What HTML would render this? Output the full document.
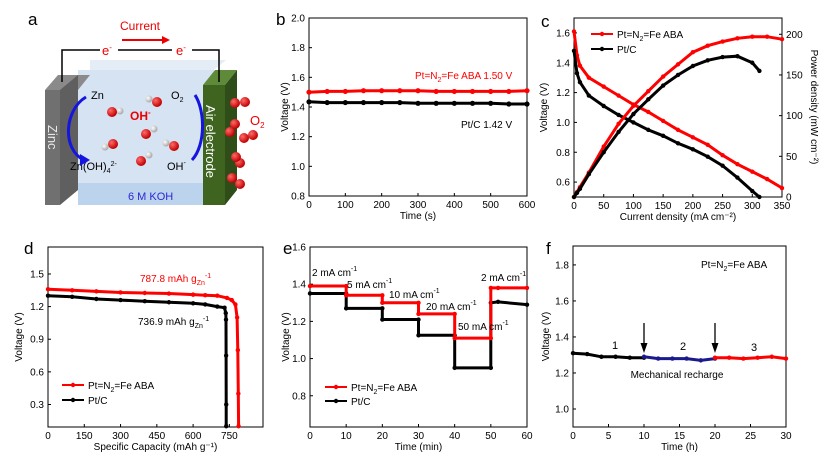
<!DOCTYPE html>
<html><head><meta charset="utf-8"><style>
body{margin:0;background:#fff;}
svg{display:block;font-family:"Liberation Sans",Arial,sans-serif;}
</style></head><body>
<svg id="fig" width="827" height="460" viewBox="0 0 827 460" xmlns="http://www.w3.org/2000/svg">
<defs>
<radialGradient id="rb" cx="35%" cy="35%" r="65%"><stop offset="0" stop-color="#ff6a6a"/><stop offset="1" stop-color="#c00000"/></radialGradient>
<radialGradient id="wb" cx="35%" cy="35%" r="65%"><stop offset="0" stop-color="#ffffff"/><stop offset="1" stop-color="#a8a8a8"/></radialGradient>
</defs>
<!-- Panel a -->
<g>
<text x="28" y="25" font-size="17">a</text>
<rect x="78" y="70" width="136" height="135" fill="#d6e3f2"/>
<polygon points="78,70 90,70 90,60 226,60 214,70" fill="#e4ecf6"/>
<rect x="78" y="183" width="136" height="22" fill="#bcd3ee"/>
<text x="128" y="200" font-size="11" fill="#2a2ad0">6 M KOH</text>
<polygon points="45,90 58,75 90,75 78,90" fill="#8a8a8a"/>
<rect x="45" y="90" width="15" height="115" fill="#707070"/>
<polygon points="60,90 78,75 78,190 60,205" fill="#5f5f5f"/>
<text transform="translate(48,125) rotate(90)" font-size="13" fill="#e8e8e8">Zinc</text>
<polygon points="203,85 215,70 237,70 225,85" fill="#5e8a3a"/>
<rect x="203" y="85" width="22" height="120" fill="#3e6420"/>
<polygon points="225,85 237,70 237,190 225,205" fill="#2f4d18"/>
<text transform="translate(206,105) rotate(90)" font-size="13" fill="#fff">Air electrode</text>
<polyline points="62,82 62,50 100,50" fill="none" stroke="#000" stroke-width="1.5"/>
<line x1="118" y1="50" x2="172" y2="50" stroke="#000" stroke-width="1.5"/>
<polyline points="192,50 219,50 219,82" fill="none" stroke="#000" stroke-width="1.5"/>
<text x="102" y="55" font-size="13" fill="#e00">e<tspan font-size="8" dy="-5">-</tspan></text>
<text x="176" y="55" font-size="13" fill="#e00">e<tspan font-size="8" dy="-5">-</tspan></text>
<text x="120" y="30" font-size="12" fill="#e00">Current</text>
<line x1="122" y1="40" x2="164" y2="40" stroke="#e00" stroke-width="2"/>
<polygon points="162,36 170,40 162,44" fill="#e00"/>
<text x="91" y="99" font-size="11">Zn</text>
<text x="70" y="170" font-size="11">Zn(OH)<tspan font-size="7" dy="3">4</tspan><tspan font-size="7" dy="-7">2-</tspan></text>
<text x="171" y="99" font-size="11">O<tspan font-size="7" dy="3">2</tspan></text>
<text x="167" y="170" font-size="11">OH<tspan font-size="7" dy="-5">-</tspan></text>
<text x="130" y="120" font-size="12" fill="#e00" font-weight="bold">OH<tspan font-size="8" dy="-5">-</tspan></text>
<text x="250" y="125" font-size="13" fill="#e00">O<tspan font-size="8" dy="3">2</tspan></text>
<path d="M86,97 C64,110 62,150 84,160" fill="none" stroke="#1515e0" stroke-width="3"/>
<polygon points="80,154 90,160 80,166" fill="#1515e0"/>
<path d="M195,95 C205,110 206,145 192,160" fill="none" stroke="#1515e0" stroke-width="3"/>
<g>
<circle cx="120" cy="111" r="3.5" fill="url(#wb)"/><circle cx="112" cy="112" r="5" fill="url(#rb)"/>
<circle cx="149" cy="99" r="3.5" fill="url(#wb)"/><circle cx="157" cy="102" r="5" fill="url(#rb)"/>
<circle cx="154" cy="129" r="3.5" fill="url(#wb)"/><circle cx="146" cy="134" r="5" fill="url(#rb)"/>
<circle cx="105" cy="147" r="3.5" fill="url(#wb)"/><circle cx="113" cy="144" r="5" fill="url(#rb)"/>
<circle cx="166" cy="143" r="3.5" fill="url(#wb)"/><circle cx="174" cy="146" r="5" fill="url(#rb)"/>
<circle cx="149" cy="155" r="3.5" fill="url(#wb)"/><circle cx="141" cy="161" r="5" fill="url(#rb)"/>
<circle cx="235" cy="103" r="5" fill="url(#rb)"/><circle cx="245" cy="102" r="5" fill="url(#rb)"/>
<circle cx="230" cy="132" r="5" fill="url(#rb)"/><circle cx="235" cy="124" r="5" fill="url(#rb)"/>
<circle cx="244" cy="138" r="5" fill="url(#rb)"/><circle cx="253" cy="135" r="5" fill="url(#rb)"/>
<circle cx="240" cy="163" r="5" fill="url(#rb)"/><circle cx="236" cy="157" r="5" fill="url(#rb)"/>
<circle cx="232" cy="178" r="5" fill="url(#rb)"/><circle cx="240" cy="184" r="5" fill="url(#rb)"/>
</g>
</g>
<g id="charts"></g>
</svg>
<script>
// ---------- data ----------
const bTime=[0,50,100,150,200,250,300,350,400,450,500,550,600];
const bRed=[1.50,1.505,1.505,1.51,1.51,1.51,1.51,1.505,1.505,1.505,1.505,1.505,1.51];
const bBlack=[1.435,1.43,1.43,1.43,1.43,1.43,1.425,1.425,1.425,1.425,1.425,1.42,1.42];
const cJ=[0,5,10,25,50,75,100,125,150,175,200,225,250,275,300,325,350];
const cRedV=[1.61,1.45,1.38,1.30,1.24,1.18,1.12,1.07,1.01,0.95,0.90,0.85,0.78,0.72,0.67,0.62,0.56];
const cJb=[0,5,10,25,50,75,100,125,150,175,200,225,250,275,300,312];
const cBlackV=[1.48,1.33,1.27,1.18,1.11,1.05,1.00,0.95,0.91,0.86,0.82,0.77,0.71,0.63,0.54,0.50];
const cRedP=[0,6,12,30,62,90,112,130,148,163,178,186,191,195,197,197,194];
const cBlackP=[0,5,10,28,55,80,102,120,137,150,161,168,172,173,165,155];
const dCapRed=[0,100,200,300,400,500,600,650,700,740,760,775,782,785,787,788];
const dVRed=[1.36,1.35,1.34,1.33,1.325,1.32,1.31,1.305,1.30,1.28,1.26,1.22,1.1,0.8,0.4,0.1];
const dCapBlack=[0,100,200,300,400,500,600,650,700,730,735,736,736.5,737,737];
const dVBlack=[1.30,1.29,1.27,1.26,1.25,1.24,1.23,1.22,1.20,1.19,1.14,1.08,0.75,0.3,0.1];
const eTime=[0,10,10,20,20,30,30,40,40,50,50,52,60];
const eRed=[1.39,1.39,1.34,1.34,1.30,1.30,1.24,1.24,1.11,1.11,1.38,1.38,1.38];
const eBlack=[1.35,1.35,1.27,1.27,1.21,1.21,1.125,1.125,0.95,0.95,1.30,1.305,1.29];
const fT1=[0,2,4,6,8,10];const fV1=[1.31,1.305,1.29,1.29,1.285,1.285];
const fT2=[10,12,14,16,18,20];const fV2=[1.29,1.28,1.28,1.28,1.27,1.28];
const fT3=[20,22,24,26,28,30];const fV3=[1.285,1.285,1.28,1.285,1.29,1.28];

const NS="http://www.w3.org/2000/svg";
const root=document.getElementById('charts');
function mk(tag,attrs,parent){const e=document.createElementNS(NS,tag);for(const k in attrs)e.setAttribute(k,attrs[k]);(parent||root).appendChild(e);return e;}
function scale(d0,d1,r0,r1){return v=>r0+(v-d0)/(d1-d0)*(r1-r0);}
function txt(x,y,s,size,anchor,fill,parent){const t=mk('text',{x:x,y:y,'font-size':size,'text-anchor':anchor||'start',fill:fill||'#000'},parent);t.textContent=s;return t;}

function axes(p){
  const g=mk('g',{});
  
  
  const fr=mk('rect',{x:p.l,y:p.t,width:p.r-p.l,height:p.b-p.t,fill:'none',stroke:'#000','stroke-width':1},g);
  
  
  const X=scale(p.x0,p.x1,p.l,p.r),Y=scale(p.y0,p.y1,p.b,p.t);
  p.xt.forEach(v=>{mk('line',{x1:X(v),x2:X(v),y1:p.b,y2:p.b-3,stroke:'#000'},g);const t=txt(X(v),p.b+12,String(v),10,'middle','#000',g);
    
    });
  p.yt.forEach(v=>{mk('line',{x1:p.l,x2:p.l+3,y1:Y(v),y2:Y(v),stroke:'#000'},g);const t=txt(p.l-4,Y(v)+3.5,v.toFixed(p.yd),10,'end','#000',g);
    
    });
  const xl=txt((p.l+p.r)/2,p.b+23,p.xlab,10,'middle','#000',g);
  
  
  const yl=mk('text',{transform:`translate(${p.ylx},${(p.t+p.b)/2}) rotate(-90)`,'font-size':10,'text-anchor':'middle'},g);
  yl.textContent='Voltage (V)';
  
  
  const lb=txt(p.lx,p.ly,p.label,17,'start','#000',g);
  
  
  return {g,X,Y};
}
function series(ax,xs,ys,color,name,r){
  const pts=xs.map((x,i)=>ax.X(x).toFixed(1)+','+ax.Y(ys[i]).toFixed(1)).join(' ');
  const pl=mk('polyline',{points:pts,fill:'none',stroke:color,'stroke-width':3},ax.g);
  
  
  xs.forEach((x,i)=>{const c=mk('circle',{cx:ax.X(x),cy:ax.Y(ys[i]),r:r||2.2,fill:color},ax.g);
    
    });
}
function legend(g,x,y,s,color){
  mk('line',{x1:x,x2:x+22,y1:y,y2:y,stroke:color,'stroke-width':2},g);
  mk('circle',{cx:x+11,cy:y,r:2.2,fill:color},g);
  const t=mk('text',{x:x+26,y:y+4,'font-size':10},g);t.innerHTML=s;
  
  
}
const abaLabel='Pt=N<tspan font-size="7" dy="3">2</tspan><tspan dy="-3">=Fe ABA</tspan>';

// b
const b=axes({name:'panel-b-chart',l:309,r:527,t:18,b:196,x0:0,x1:600,y0:0.8,y1:2.0,xt:[0,100,200,300,400,500,600],yt:[0.8,1.0,1.2,1.4,1.6,1.8,2.0],yd:1,xlab:'Time (s)',ylx:288,label:'b',lx:276,ly:25});
series(b,bTime,bRed,'#f00','b-aba-line',2.6);series(b,bTime,bBlack,'#000','b-ptc-line',2.6);
let t=mk('text',{x:415,y:79,'font-size':10,fill:'#f00'},b.g);t.innerHTML='Pt=N<tspan font-size="7" dy="3">2</tspan><tspan dy="-3">=Fe ABA 1.50 V</tspan>';


t=txt(461,128,'Pt/C 1.42 V',10,'start','#000',b.g);



// c
const c=axes({name:'panel-c-chart',l:574,r:782,t:18,b:197,x0:0,x1:350,y0:0.5,y1:1.7,xt:[0,50,100,150,200,250,300,350],yt:[0.6,0.8,1.0,1.2,1.4,1.6],yd:1,xlab:'Current density (mA cm⁻²)',ylx:547,label:'c',lx:541,ly:27});
const cP={X:c.X,Y:scale(0,220,197,18),g:c.g};
[0,50,100,150,200].forEach(v=>{mk('line',{x1:782,x2:779,y1:cP.Y(v),y2:cP.Y(v),stroke:'#000'},c.g);const tt=txt(786,cP.Y(v)+3.5,String(v),10,'start','#000',c.g);
  
  });
t=mk('text',{transform:'translate(811,107) rotate(90)','font-size':10,'text-anchor':'middle'},c.g);t.textContent='Power density (mW cm⁻²)';


series(c,cJ,cRedV,'#f00','c-aba-voltage');series(c,cJb,cBlackV,'#000','c-ptc-voltage');
series(cP,cJ,cRedP,'#f00','c-aba-power');series(cP,cJb,cBlackP,'#000','c-ptc-power');
legend(c.g,591,34,abaLabel,'#f00');legend(c.g,591,49,'Pt/C','#000');

// d
const d=axes({name:'panel-d-chart',l:48,r:263,t:247,b:427,x0:0,x1:889,y0:0.093,y1:1.748,xt:[0,150,300,450,600,750],yt:[0.3,0.6,0.9,1.2,1.5],yd:1,xlab:'Specific Capacity (mAh g⁻¹)',ylx:22,label:'d',lx:24,ly:254});
series(d,dCapRed,dVRed,'#f00','d-aba-line');series(d,dCapBlack,dVBlack,'#000','d-ptc-line');
t=mk('text',{x:140,y:282,'font-size':10,fill:'#f00'},d.g);t.innerHTML='787.8 mAh g<tspan font-size="7" dy="3">Zn</tspan><tspan font-size="7" dy="-7">-1</tspan>';


t=mk('text',{x:138,y:325,'font-size':10},d.g);t.innerHTML='736.9 mAh g<tspan font-size="7" dy="3">Zn</tspan><tspan font-size="7" dy="-7">-1</tspan>';


legend(d.g,62,385,abaLabel,'#f00');legend(d.g,62,400,'Pt/C','#000');

// e
const e=axes({name:'panel-e-chart',l:310,r:527,t:247,b:427,x0:0,x1:60,y0:0.632,y1:1.6,xt:[0,10,20,30,40,50,60],yt:[0.8,1.0,1.2,1.4,1.6],yd:1,xlab:'Time (min)',ylx:289,label:'e',lx:283,ly:254});
series(e,eTime,eBlack,'#000','e-ptc-line');series(e,eTime,eRed,'#f00','e-aba-line');
[[312,276,'2'],[347,288,'5'],[389,298,'10'],[426,310,'20'],[458,330,'50'],[481,281,'2']].forEach(a=>{
  const tt=mk('text',{x:a[0],y:a[1],'font-size':10},e.g);tt.innerHTML=a[2]+' mA cm<tspan font-size="7" dy="-5">-1</tspan>';
  
  });
legend(e.g,325,387,abaLabel,'#f00');legend(e.g,325,401,'Pt/C','#000');

// f
const f=axes({name:'panel-f-chart',l:573,r:786,t:246,b:427,x0:0,x1:30,y0:0.9,y1:1.905,xt:[0,5,10,15,20,25,30],yt:[1.0,1.2,1.4,1.6,1.8],yd:1,xlab:'Time (h)',ylx:549,label:'f',lx:546,ly:254});
series(f,fT1,fV1,'#000','f-cycle1-line');series(f,fT2,fV2,'#1a1a8c','f-cycle2-line');series(f,fT3,fV3,'#f00','f-cycle3-line');
t=mk('text',{x:701,y:268,'font-size':10},f.g);t.innerHTML=abaLabel;


[[612,349,'1'],[680,350,'2'],[751,351,'3']].forEach(a=>{const tt=txt(a[0],a[1],a[2],11,'start','#000',f.g);
  
  });
t=txt(677,378,'Mechanical recharge',10,'middle','#000',f.g);


[10,20].forEach(v=>{const x=f.X(v);mk('line',{x1:x,x2:x,y1:323,y2:347,stroke:'#000','stroke-width':1.3},f.g);
  const p=mk('polygon',{points:`${x-3.5},343 ${x+3.5},343 ${x},353`,fill:'#000'},f.g);
  
  });
</script>
</body></html>
